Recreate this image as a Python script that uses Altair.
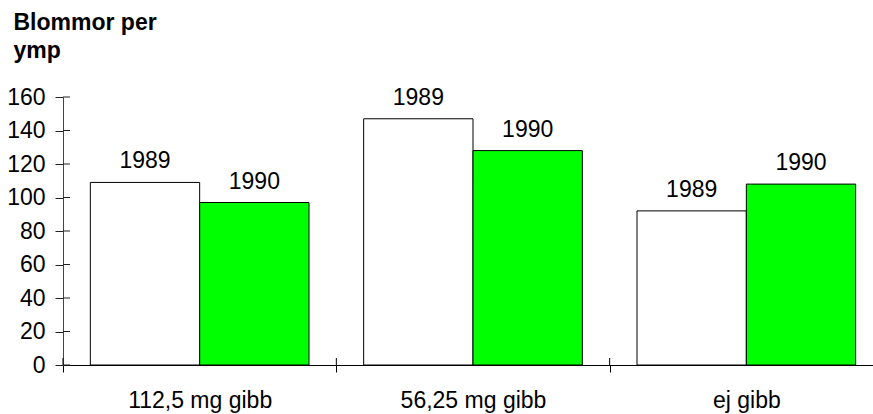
import altair as alt
import pandas as pd

categories = ["112,5 mg gibb", "56,25 mg gibb", "ej gibb"]
years = ["1989", "1990"]
values_1989 = [109, 147, 92]
values_1990 = [97, 128, 108]
y_ticks = [0, 20, 40, 60, 80, 100, 120, 140, 160]
title_lines = ["Blommor per", "ymp"]

rows = []
for c, a, b in zip(categories, values_1989, values_1990):
    rows.append({"cat": c, "year": years[0], "value": a})
    rows.append({"cat": c, "year": years[1], "value": b})
df = pd.DataFrame(rows)
df_ticks = pd.DataFrame({"value": y_ticks})
df_cats = pd.DataFrame({"cat": categories})

FONT = "Liberation Sans"
FS = 23
W, H = 810, 268

xscale = alt.Scale(domain=categories, paddingInner=0, paddingOuter=0, range=[0, 820])
yscale = alt.Scale(domain=[0, 160], nice=False, zero=True)

x_axis = alt.Axis(
    labelAngle=0, labelFont=FONT, labelFontSize=FS, labelColor="black",
    labelPadding=17, tickSize=7, tickBand="extent", tickColor="black",
    domainColor="black", grid=False, labelFlush=False, title=None,
)
y_axis = alt.Axis(
    values=y_ticks, labelFont=FONT, labelFontSize=FS, labelColor="black",
    labelPadding=10, tickSize=8, tickColor="#222", domainColor="#444",
    grid=False, title=title_lines, titleAngle=0, titleAlign="left",
    titleBaseline="alphabetic", titleX=-50, titleY=-68, titleFont=FONT,
    titleFontSize=FS, titleFontWeight="bold", titleLineHeight=28.8,
    titleColor="black",
)

def X(**kw):
    return alt.X("cat:N", scale=xscale, sort=categories, axis=x_axis, **kw)

def Y():
    return alt.Y("value:Q", scale=yscale, axis=y_axis)

xoff = alt.XOffset("year:N", sort=years, scale=alt.Scale(paddingInner=0, paddingOuter=0.25))

bars = alt.Chart(df).mark_bar(stroke="black", strokeWidth=1).encode(
    x=X(),
    xOffset=xoff,
    y=Y(),
    color=alt.Color("year:N", scale=alt.Scale(domain=years, range=["#ffffff", "#00ff00"]), legend=None),
)

labels = alt.Chart(df).mark_text(baseline="alphabetic", dy=-14, font=FONT, fontSize=FS, color="black").encode(
    x=X(),
    xOffset=xoff,
    y=Y(),
    text="year:N",
)

yticks_in = alt.Chart(df_ticks).mark_rule(color="#222", strokeWidth=1).encode(
    y=Y(),
    x=alt.value(0),
    x2=alt.value(7),
)

xticks_in = alt.Chart(df_cats).mark_rule(color="black", strokeWidth=1).encode(
    x=X(bandPosition=0),
    y=alt.value(H - 7),
    y2=alt.value(H),
)

chart = alt.layer(bars, labels, yticks_in, xticks_in).properties(
    width=W, height=H,
    autosize=alt.AutoSizeParams(type="none"),
    padding={"left": 63, "top": 97, "right": 0, "bottom": 49},
).configure(background="white").configure_view(stroke=None, strokeWidth=0)

chart.save("out.html", embed_options={"renderer": "svg", "actions": False})
